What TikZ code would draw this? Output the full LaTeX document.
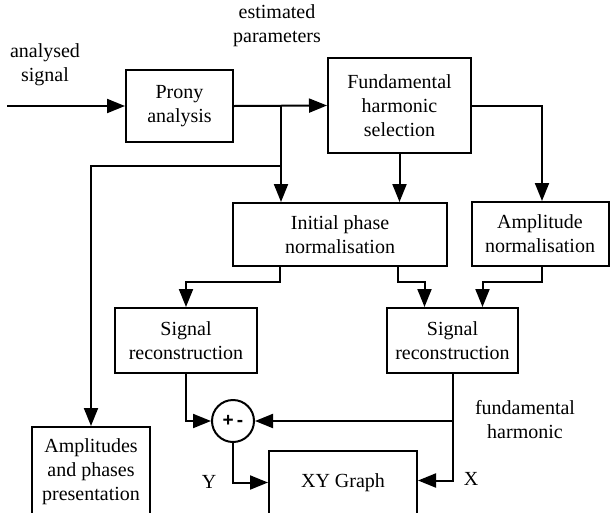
\documentclass[tikz,border=0pt]{standalone}
\usepackage{fontspec}
\setmainfont{Liberation Serif}
\setsansfont{Liberation Sans}
\usetikzlibrary{arrows.meta,calc}
\begin{document}
\begin{tikzpicture}[x=1pt,y=-1pt,
  line width=2pt,
  every node/.style={font=\fontsize{20}{24}\selectfont, inner sep=0pt},
  blk/.style={draw, align=center, line width=2pt},
  lbl/.style={align=center},
  arr/.style={-{Triangle[length=18pt,width=14pt]}}]
\clip (0,0) rectangle (610,512);
\fill[white] (0,0) rectangle (610,512);
% boxes
\node[blk, minimum width=107pt, minimum height=72pt] (prony) at (179.5,106) {Prony\\analysis};
\node[blk, minimum width=143pt, minimum height=95pt] (fund) at (399.5,105.5) {Fundamental\\harmonic\\selection};
\node[blk, minimum width=214pt, minimum height=63pt] (init) at (340,234.5) {Initial phase\\normalisation};
\node[blk, minimum width=137pt, minimum height=64pt] (ampn) at (540,234) {Amplitude\\normalisation};
\node[blk, minimum width=142pt, minimum height=65pt] (srl) at (186,340.5) {Signal\\reconstruction};
\node[blk, minimum width=131pt, minimum height=65pt] (srr) at (452.5,340.5) {Signal\\reconstruction};
\node[draw, circle, minimum size=42pt, font=\sffamily\bfseries\fontsize{19}{22}\selectfont] (sum) at (233,421) {+\,-};
\node[blk, minimum width=148pt, minimum height=63pt] (xy) at (343,482.5) {XY Graph};
\node[blk, minimum width=118pt, minimum height=90pt] (amp) at (91,472) {Amplitudes\\and phases\\presentation};
% labels
\node[lbl] (lin) at (45,65) {analysed\\signal};
\node[lbl] (lest) at (277,26) {estimated\\parameters};
\node[lbl] (lfh) at (525,420) {fundamental\\harmonic};
\node (ly) at (209,482) {Y};
\node (lx) at (471,479) {X};
% coordinates
\coordinate (in) at (7,106);
\coordinate (b1) at (281,106);
\coordinate (b2) at (281,166);
% connectors
\draw[arr] (in) -- (prony.west);
\draw[arr] (prony.east) -- (fund.west);
\draw[arr] (b1) -- (b1 |- init.north);
\draw[arr] (b2) -| (amp.north);
\draw[arr] (fund.south) -- (fund.south |- init.north);
\draw[arr] (fund.east) -| ([xshift=2pt]ampn.north);
\draw[arr] ([xshift=48pt]init.south west) |- ([yshift=25pt]srl.north) -- (srl.north);
\draw[arr] ([xshift=166pt]init.south west) |- ([xshift=-28pt,yshift=25pt]srr.north) -- ([xshift=-28pt]srr.north);
\draw[arr] ([xshift=2pt]ampn.south) |- ([xshift=30pt,yshift=25pt]srr.north) -- ([xshift=30pt]srr.north);
\draw[arr] (srl.south) |- (sum.west);
\draw[arr] (srr.south) |- (sum.east);
\draw[arr] (srr.south) |- ([yshift=2pt]xy.east);
\draw[arr] (sum.south) |- (xy.west);
\end{tikzpicture}
\end{document}
